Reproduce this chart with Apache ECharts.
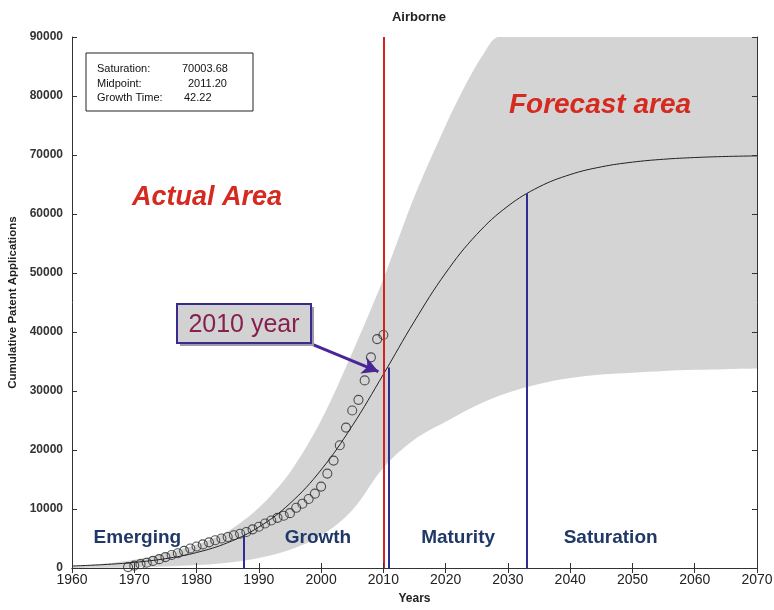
<!DOCTYPE html>
<html>
<head>
<meta charset="utf-8">
<script src="https://cdn.jsdelivr.net/npm/echarts@6/dist/echarts.min.js"></script>
<style>
  html, body { margin: 0; padding: 0; background: #fff; }
  #chart { width: 774px; height: 610px; }
</style>
</head>
<body>
<div id="chart"></div>
<script>
// Cumulative patent applications, Airborne technology (logistic fit)
const fitYears = [1960, 1965, 1970, 1975, 1980, 1985, 1990, 1995, 2000, 2005, 2010, 2015, 2020, 2025, 2030, 2035, 2040, 2045, 2050, 2055, 2060, 2065, 2070];
const fitValues = [340, 570, 950, 1580, 2620, 4290, 6940, 10940, 16630, 24090, 32820, 41840, 50000, 56550, 61340, 64590, 66680, 67990, 68790, 69280, 69570, 69750, 69850];

// Confidence band edges
const upperYears = [1960, 1965, 1970, 1975, 1980, 1985, 1990, 1995, 2000, 2005, 2010, 2015, 2020, 2023, 2026, 2028.5, 2035, 2045, 2055, 2070];
const bandUpper = [300, 700, 1400, 2500, 4000, 6200, 10200, 16200, 25000, 36500, 49000, 63000, 75000, 81500, 87000, 90000, 90000, 90000, 90000, 90000];
const lowerYears = [1960, 1965, 1970, 1975, 1980, 1985, 1990, 1995, 2000, 2005, 2010, 2015, 2020, 2025, 2030, 2035, 2040, 2045, 2050, 2055, 2060, 2065, 2070];
const bandLower = [0, 30, 100, 250, 500, 900, 1700, 3100, 5500, 9800, 17000, 21800, 24800, 27600, 29700, 31200, 32200, 32800, 33100, 33400, 33600, 33700, 33800];

// Observed cumulative applications per year
const obsYears = [1969, 1970, 1971, 1972, 1973, 1974, 1975, 1976, 1977, 1978, 1979, 1980, 1981, 1982, 1983, 1984, 1985, 1986, 1987, 1988, 1989, 1990, 1991, 1992, 1993, 1994, 1995, 1996, 1997, 1998, 1999, 2000, 2001, 2002, 2003, 2004, 2005, 2006, 2007, 2008, 2009, 2010];
const obsValues = [150, 400, 650, 900, 1200, 1500, 1850, 2200, 2500, 2900, 3300, 3650, 4000, 4350, 4700, 5000, 5250, 5550, 5800, 6100, 6550, 7000, 7550, 8050, 8500, 8850, 9300, 10200, 10900, 11700, 12600, 13800, 16000, 18200, 20800, 23800, 26700, 28500, 31800, 35700, 38800, 39500];

// Stage boundaries (year, height reached on the fitted curve)
const stageYears = [1987.5, 2010.8, 2033.1];
const stageHeights = [5500, 34000, 63500];
const currentYear = 2010;

// Fit parameters
const paramNames = ['Saturation:', 'Midpoint:', 'Growth Time:'];
const paramValues = ['70003.68', '2011.20', '42.22'];

const stageNames = ['Emerging', 'Growth', 'Maturity', 'Saturation'];
const stageNameX = [1970.5, 1999.5, 2022, 2046.5];

const xTicks = { min: 1960, max: 2070, interval: 10 };
const yTicks = { min: 0, max: 90000, interval: 10000 };

const FONT = '"Liberation Sans", Arial, sans-serif';
const NARROW = '"Liberation Sans Narrow", "Liberation Sans", Arial, sans-serif';

const zip = (xs, ys) => xs.map((x, i) => [x, ys[i]]);
const plain = v => String(v);

const chart = echarts.init(document.getElementById('chart'), null, { renderer: 'canvas' });

const axisLine = { show: true, lineStyle: { color: '#333', width: 1 } };
const tickIn = { show: true, inside: true, length: 5, lineStyle: { color: '#333' } };

const option = {
  backgroundColor: '#fff',
  animation: false,
  title: {
    text: 'Airborne',
    left: 414, top: 6, textAlign: 'center',
    textStyle: { fontFamily: FONT, fontSize: 13, fontWeight: 'bold', color: '#222' }
  },
  grid: { left: 72, right: 17, top: 37, bottom: 42, containLabel: false, outerBoundsMode: 'none' },
  xAxis: [
    {
      type: 'value', min: xTicks.min, max: xTicks.max, interval: xTicks.interval, z: 10,
      axisLine, axisTick: tickIn, splitLine: { show: false },
      axisLabel: { fontFamily: NARROW, fontSize: 14, color: '#222', margin: 5, formatter: plain },
      name: 'Years', nameLocation: 'middle', nameGap: 25,
      nameTextStyle: { fontFamily: FONT, fontSize: 12, fontWeight: 'bold', color: '#222' }
    },
    {
      type: 'value', position: 'top', min: xTicks.min, max: xTicks.max, interval: xTicks.interval, z: 10,
      axisLine, axisTick: tickIn, splitLine: { show: false }, axisLabel: { show: false }
    }
  ],
  yAxis: [
    {
      type: 'value', min: yTicks.min, max: yTicks.max, interval: yTicks.interval, z: 10,
      axisLine, axisTick: tickIn, splitLine: { show: false },
      axisLabel: { fontFamily: FONT, fontSize: 12, fontWeight: 'bold', color: '#333', margin: 9, formatter: plain },
      name: 'Cumulative Patent Applications', nameLocation: 'middle', nameGap: 53, nameRotate: 90,
      nameTextStyle: { fontFamily: FONT, fontSize: 11.5, fontWeight: 'bold', color: '#222' }
    },
    {
      type: 'value', position: 'right', min: yTicks.min, max: yTicks.max, interval: yTicks.interval, z: 10,
      axisLine, axisTick: tickIn, splitLine: { show: false }, axisLabel: { show: false }
    }
  ],
  series: [
    {
      name: 'upper', type: 'line', data: zip(upperYears, bandUpper), smooth: 0.3,
      showSymbol: false, silent: true, z: 1,
      lineStyle: { width: 0 }, areaStyle: { color: '#d4d4d4', opacity: 1 }
    },
    {
      name: 'lower', type: 'line', data: zip(lowerYears, bandLower), smooth: 0.35,
      showSymbol: false, silent: true, z: 2,
      lineStyle: { width: 0 }, areaStyle: { color: '#ffffff', opacity: 1 }
    },
    {
      name: 'fit', type: 'line', data: zip(fitYears, fitValues), smooth: 0.4,
      showSymbol: false, silent: true, z: 3,
      lineStyle: { color: '#222', width: 1 },
      markLine: {
        silent: true, symbol: ['none', 'none'], label: { show: false },
        data: [
          [{ coord: [currentYear, yTicks.min], lineStyle: { color: '#d42020', width: 2, type: 'solid' } },
           { coord: [currentYear, yTicks.max] }],
          ...stageYears.map((yr, i) => [
            { coord: [yr, 0], lineStyle: { color: '#2e2e92', width: 2, type: 'solid' } },
            { coord: [yr, stageHeights[i]] }
          ])
        ]
      }
    },
    {
      name: 'observed', type: 'scatter', data: zip(obsYears, obsValues),
      symbol: 'circle', symbolSize: 9, silent: true, z: 4,
      itemStyle: { color: 'rgba(0,0,0,0)', borderColor: '#2a2a2a', borderWidth: 1.1 }
    },
    {
      name: 'arrow', type: 'line', data: [], silent: true, z: 6,
      markLine: {
        silent: true, symbol: ['none', 'arrow'], symbolSize: [13, 16], label: { show: false },
        data: [[
          { coord: [1998.6, 37900], lineStyle: { color: '#4a2597', width: 3, type: 'solid' } },
          { coord: [2009.2, 33300] }
        ]]
      }
    }
  ],
  graphic: [
    // Fit parameter box
    { type: 'rect', shape: { x: 86, y: 53, width: 167, height: 58 }, z: 20,
      style: { fill: '#fff', stroke: '#222', lineWidth: 1 } },
    ...paramNames.map((t, i) => ({
      type: 'text', x: 97, y: 69 + i * 14.5, z: 21,
      style: { text: t, fontFamily: FONT, fontSize: 11, fill: '#111', verticalAlign: 'middle' }
    })),
    ...paramValues.map((t, i) => ({
      type: 'text', x: [182, 188, 184][i], y: 69 + i * 14.5, z: 21,
      style: { text: t, fontFamily: FONT, fontSize: 11, fill: '#111', verticalAlign: 'middle' }
    })),
    // Region captions
    { type: 'text', x: 207, y: 198, z: 21,
      style: { text: 'Actual Area', fontFamily: FONT, fontSize: 27, fontWeight: 'bold', fontStyle: 'italic',
               fill: '#d42a20', align: 'center', verticalAlign: 'middle' } },
    { type: 'text', x: 600, y: 105, z: 21,
      style: { text: 'Forecast area', fontFamily: FONT, fontSize: 28, fontWeight: 'bold', fontStyle: 'italic',
               fill: '#d42a20', align: 'center', verticalAlign: 'middle' } },
    // Callout box
    { type: 'rect', shape: { x: 180, y: 307, width: 134, height: 39 }, z: 19,
      style: { fill: '#9a9aa8' } },
    { type: 'rect', shape: { x: 177, y: 304, width: 134, height: 39 }, z: 20,
      style: { fill: '#d2d2d2', stroke: '#3b2a8e', lineWidth: 2 } },
    { type: 'text', x: 244, y: 325, z: 21,
      style: { text: '2010 year', fontFamily: FONT, fontSize: 25, fill: '#85204f', align: 'center', verticalAlign: 'middle' } },
    // Stage names
    ...stageNames.map((t, i) => ({
      type: 'text', x: 72 + (stageNameX[i] - 1960) * 6.227, y: 538, z: 21,
      style: { text: t, fontFamily: FONT, fontSize: 19, fontWeight: 'bold', fill: '#1f3868', align: 'center', verticalAlign: 'middle' }
    }))
  ]
};

chart.setOption(option);
</script>
</body>
</html>
